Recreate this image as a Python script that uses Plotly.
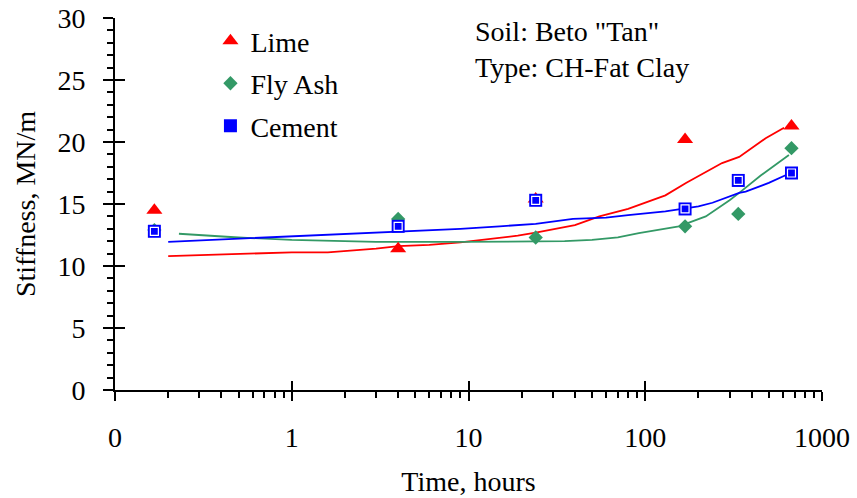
import plotly.graph_objects as go

# ---------------- data ----------------
time_pts = [0.167, 4, 24, 168, 336, 672]
lime_time = [0.167, 4, 24, 168, 672]
lime_pts = [14.5, 11.4, 15.4, 20.2, 21.3]
flyash_pts = [12.9, 13.8, 12.3, 13.2, 14.2, 19.5]
cement_pts = [12.8, 13.2, 15.3, 14.6, 16.9, 17.5]

lime_trend_t = [0.2, 0.5, 1, 1.6, 3, 4, 6, 9, 12, 19, 24, 40, 55, 80, 130, 170, 272, 340, 480, 610]
lime_trend_y = [10.8, 11.0, 11.1, 11.1, 11.4, 11.6, 11.7, 11.9, 12.1, 12.45, 12.7, 13.3, 14.0, 14.6, 15.7, 16.7, 18.3, 18.8, 20.3, 21.15]

cement_trend_t = [0.2, 0.5, 1, 2, 4, 9, 15, 24, 39, 60, 80, 130, 200, 240, 340, 370, 500, 640]
cement_trend_y = [11.95, 12.2, 12.4, 12.6, 12.8, 13.0, 13.2, 13.4, 13.8, 13.9, 14.1, 14.4, 14.8, 15.1, 15.9, 16.0, 16.7, 17.4]

flyash_trend_t = [0.23, 0.5, 1, 1.9, 3, 9, 20, 35, 50, 70, 92, 130, 155, 220, 300, 340, 450, 650]
flyash_trend_y = [12.6, 12.3, 12.1, 12.0, 11.95, 11.95, 11.95, 12.0, 12.1, 12.3, 12.65, 13.0, 13.2, 14.0, 15.3, 15.9, 17.3, 18.95]

x_tickvals = [0.1, 1, 10, 100, 1000]
x_ticktext = ["0", "1", "10", "100", "1000"]
x_minor = [m * d for d in [0.1, 1, 10, 100] for m in range(2, 10)]
y_tickvals = [0, 5, 10, 15, 20, 25, 30]

RED = "#FF0000"
GREEN = "#339966"
BLUE = "#0000FF"
FONT = "Liberation Serif"
FS = 28

fig = go.Figure()

# trend lines
fig.add_trace(go.Scatter(x=lime_trend_t, y=lime_trend_y, mode="lines",
                         line=dict(color=RED, width=1.8), showlegend=False, hoverinfo="skip"))
fig.add_trace(go.Scatter(x=flyash_trend_t, y=flyash_trend_y, mode="lines",
                         line=dict(color=GREEN, width=1.8), showlegend=False, hoverinfo="skip"))
fig.add_trace(go.Scatter(x=cement_trend_t, y=cement_trend_y, mode="lines",
                         line=dict(color=BLUE, width=1.8), showlegend=False, hoverinfo="skip"))

# markers
fig.add_trace(go.Scatter(x=lime_time, y=lime_pts, mode="markers", name="Lime",
                         marker=dict(symbol="triangle-up", size=14, color=RED), legendgroup="a"))
fig.add_trace(go.Scatter(x=time_pts, y=flyash_pts, mode="markers", name="Fly Ash",
                         marker=dict(symbol="diamond", size=11, color=GREEN), legendgroup="b"))
fig.add_trace(go.Scatter(x=time_pts, y=cement_pts, mode="markers", name="Cement",
                         marker=dict(symbol="square", size=13, color=BLUE), legendgroup="c"))
fig.add_trace(go.Scatter(x=time_pts, y=cement_pts, mode="markers", showlegend=False,
                         marker=dict(symbol="square-open", size=8, color="white",
                                     line=dict(width=1.2, color="white")), hoverinfo="skip"))

axis_common = dict(showgrid=False, zeroline=False, color="black", automargin=False)

fig.update_layout(
    width=857, height=498,
    margin=dict(l=115, r=35, t=18, b=108),
    paper_bgcolor="white", plot_bgcolor="white",
    font=dict(family=FONT, size=FS, color="black"),
    xaxis=dict(type="log", range=[-1, 3], tickmode="array", tickvals=x_tickvals, ticktext=x_ticktext,
               ticks="outside", ticklen=9, tickwidth=2, tickcolor="black",
               showline=True, linecolor="black", linewidth=2,
               ticklabelstandoff=12,
               minor=dict(tickmode="array", tickvals=x_minor, ticks="outside", ticklen=6,
                          tickwidth=1.5, tickcolor="black"),
               title=dict(text="Time, hours", standoff=20, font=dict(family=FONT, size=FS)),
               **axis_common),
    yaxis=dict(range=[0, 30], tickmode="array", tickvals=y_tickvals,
               ticks="outside", ticklen=10, tickwidth=2, tickcolor="black",
               showline=True, linecolor="black", linewidth=2,
               ticklabelstandoff=12,
               minor=dict(dtick=1, ticks="outside", ticklen=6, tickwidth=1.5, tickcolor="black"),
               title=dict(text="Stiffness, MN/m", standoff=14, font=dict(family=FONT, size=FS)),
               **axis_common),
    xaxis2=dict(type="log", range=[-1, 3], overlaying="x", anchor="y", tickmode="array",
                tickvals=x_tickvals, ticks="inside", ticklen=9, tickwidth=2, tickcolor="black",
                showticklabels=False, showline=False, **axis_common),
    yaxis2=dict(range=[0, 30], overlaying="y", anchor="x", side="left", tickmode="array",
                tickvals=y_tickvals, ticks="inside", ticklen=10, tickwidth=2, tickcolor="black",
                showticklabels=False, showline=False, **axis_common),
    legend=dict(x=0.135, y=1.005, xanchor="left", yanchor="top", bgcolor="rgba(0,0,0,0)",
                font=dict(family=FONT, size=FS), traceorder="grouped", tracegroupgap=3,
                itemsizing="trace"),
    annotations=[
        dict(text='Soil: Beto "Tan"', x=0.506, y=0.965, xref="paper", yref="paper",
             xanchor="left", yanchor="middle", showarrow=False, font=dict(family=FONT, size=FS)),
        dict(text="Type: CH-Fat Clay", x=0.506, y=0.868, xref="paper", yref="paper",
             xanchor="left", yanchor="middle", showarrow=False, font=dict(family=FONT, size=FS)),
    ],
)

# dummy trace to activate overlay axes for crossing major ticks
fig.add_trace(go.Scatter(x=[0.1], y=[0], xaxis="x2", yaxis="y2", mode="markers",
                         marker=dict(opacity=0), showlegend=False, hoverinfo="skip"))

fig.write_html("out.html")
